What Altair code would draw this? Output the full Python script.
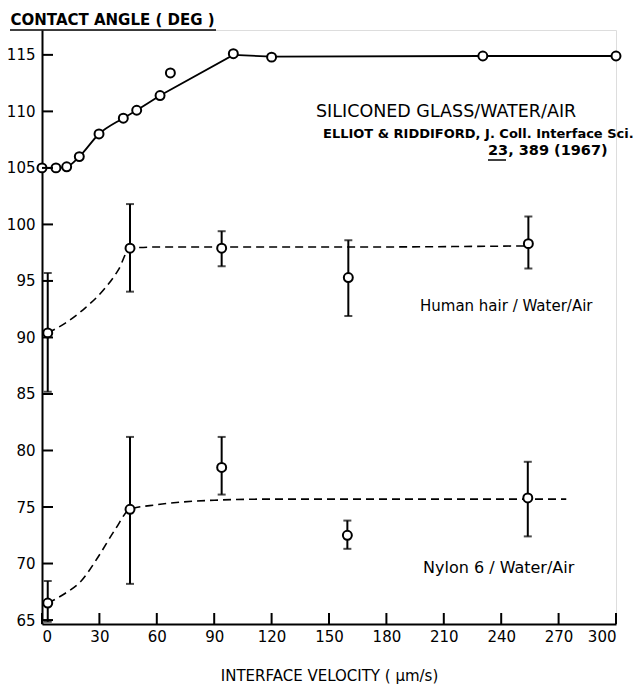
import altair as alt
import pandas as pd

FONT = "DejaVu Sans"

# Siliconed glass / water / air (Elliot & Riddiford)
glass_x = [0, 7.3, 12.9, 19.5, 29.8, 42.5, 49.5, 61.7, 67.1, 100, 120, 230.4, 300]
glass_y = [105.0, 105.0, 105.1, 106.0, 108.0, 109.4, 110.1, 111.4, 113.4, 115.1, 114.8, 114.9, 114.9]
glass_curve_x = [0, 7.3, 12.9, 19.5, 29.8, 42.5, 49.5, 61.7, 100, 120, 230, 300]
glass_curve_y = [105.0, 105.0, 105.1, 106.0, 108.0, 109.4, 110.1, 111.4, 115.0, 114.85, 114.9, 114.9]

# Human hair / water / air
hair_x = [3.0, 46.0, 93.9, 160.1, 254.2]
hair_y = [90.4, 97.9, 97.9, 95.3, 98.3]
hair_lo = [85.2, 94.05, 96.3, 91.9, 96.1]
hair_hi = [95.7, 101.8, 99.4, 98.6, 100.7]
hair_curve_x = [3.0, 12.0, 22.5, 32.9, 40.0, 46.0, 60, 94, 160, 254.2]
hair_curve_y = [90.4, 91.25, 92.6, 94.35, 96.0, 97.9, 98.0, 98.0, 98.0, 98.1]

# Nylon 6 / water / air
nylon_x = [3.0, 46.0, 93.9, 159.6, 253.9]
nylon_y = [66.5, 74.8, 78.5, 72.5, 75.8]
nylon_lo = [64.85, 68.2, 76.1, 71.3, 72.4]
nylon_hi = [68.45, 81.2, 81.2, 73.8, 79.0]
nylon_curve_x = [3.0, 12.0, 20.7, 29.4, 38.2, 46.0, 60, 90, 120, 274]
nylon_curve_y = [66.5, 67.35, 68.5, 70.6, 73.0, 74.8, 75.2, 75.6, 75.7, 75.7]

x_ticks = [0, 30, 60, 90, 120, 150, 180, 210, 240, 270, 300]
y_ticks = [65, 70, 75, 80, 85, 90, 95, 100, 105, 110, 115]

W, H = 574, 594
xs = alt.Scale(domain=[0, 300], nice=False, zero=False)
ys = alt.Scale(domain=[64.65, 117.2], nice=False, zero=False)

pts = pd.DataFrame({"x": glass_x + hair_x + nylon_x, "y": glass_y + hair_y + nylon_y})
err = pd.DataFrame({"x": hair_x + nylon_x, "lo": hair_lo + nylon_lo, "hi": hair_hi + nylon_hi})
gc = pd.DataFrame({"x": glass_curve_x, "y": glass_curve_y, "o": range(len(glass_curve_x))})
hc = pd.DataFrame({"x": hair_curve_x, "y": hair_curve_y, "o": range(len(hair_curve_x))})
nc = pd.DataFrame({"x": nylon_curve_x, "y": nylon_curve_y, "o": range(len(nylon_curve_x))})
one = pd.DataFrame({"a": [0]})

X = alt.X("x:Q", scale=xs, axis=alt.Axis(
    values=x_ticks, title="INTERFACE VELOCITY ( \u03bcm/s)", ticks=False, grid=False,
    labelFontSize=15, labelPadding=5, titleFontSize=15, titleFontWeight="normal",
    titlePadding=24, domainColor="black", domainWidth=2, labelColor="black", titleColor="black",
    labelFont=FONT, titleFont=FONT))
Y = alt.Y("y:Q", scale=ys, axis=alt.Axis(
    values=y_ticks, title="CONTACT ANGLE ( DEG )", ticks=False, grid=False,
    labelFontSize=15, labelPadding=7, titleAngle=0, titleAlign="left", titleBaseline="bottom",
    titleX=-32, titleY=-3, titleFontSize=15, titleFontWeight="bold",
    domainColor="black", domainWidth=2, labelColor="black", titleColor="black",
    labelFont=FONT, titleFont=FONT))

glass_low = alt.Chart(gc).transform_filter(alt.datum.x <= 61.7).mark_line(
    color="black", strokeWidth=1.8, interpolate="monotone").encode(x=X, y=Y, order="o:Q")
glass_high = alt.Chart(gc).transform_filter(alt.datum.x >= 61.7).mark_line(
    color="black", strokeWidth=1.8, interpolate="linear").encode(
    x=alt.X("x:Q", scale=xs), y=alt.Y("y:Q", scale=ys), order="o:Q")
hair_line = alt.Chart(hc).mark_line(color="black", strokeWidth=1.6, strokeDash=[8, 5], interpolate="monotone").encode(
    x=alt.X("x:Q", scale=xs), y=alt.Y("y:Q", scale=ys), order="o:Q")
nylon_line = alt.Chart(nc).mark_line(color="black", strokeWidth=1.6, strokeDash=[8, 5], interpolate="monotone").encode(
    x=alt.X("x:Q", scale=xs), y=alt.Y("y:Q", scale=ys), order="o:Q")

bars = alt.Chart(err).mark_rule(color="black", strokeWidth=2).encode(
    x=alt.X("x:Q", scale=xs), y=alt.Y("lo:Q", scale=ys), y2="hi:Q")
cap_lo = alt.Chart(err).mark_tick(color="black", orient="horizontal", size=8, thickness=2).encode(
    x=alt.X("x:Q", scale=xs), y=alt.Y("lo:Q", scale=ys))
cap_hi = alt.Chart(err).mark_tick(color="black", orient="horizontal", size=8, thickness=2).encode(
    x=alt.X("x:Q", scale=xs), y=alt.Y("hi:Q", scale=ys))

points = alt.Chart(pts).mark_point(shape="circle", size=80, filled=False, fill="white",
                                   fillOpacity=1, color="black", strokeWidth=2, opacity=1).encode(
    x=alt.X("x:Q", scale=xs), y=alt.Y("y:Q", scale=ys))

yt = pd.DataFrame({"v": y_ticks})
xt = pd.DataFrame({"v": x_ticks})
ytick = alt.Chart(yt).mark_rule(color="black", strokeWidth=2).encode(
    y=alt.Y("v:Q", scale=ys), x=alt.value(0), x2=alt.value(11))
xtick = alt.Chart(xt).mark_rule(color="black", strokeWidth=2).encode(
    x=alt.X("v:Q", scale=xs), y=alt.value(H), y2=alt.value(H - 11))

underline = alt.Chart(one).mark_rule(color="black", strokeWidth=1.5).encode(
    x=alt.value(-32), x2=alt.value(174), y=alt.value(0))

def label(txt, px, py, size, weight="normal", align="left"):
    return alt.Chart(one).mark_text(text=txt, fontSize=size, fontWeight=weight, font=FONT,
                                    align=align, baseline="middle", color="black").encode(
        x=alt.value(px), y=alt.value(py))

texts = [
    label("SILICONED GLASS/WATER/AIR", 274, 82, 17.5),
    label("ELLIOT & RIDDIFORD, J. Coll. Interface Sci.", 281, 104, 13, "bold"),
    label("23, 389 (1967)", 446, 121, 14.5, "bold"),
    label("Human hair / Water/Air", 378, 276, 15),
    label("Nylon  6 / Water/Air", 381, 538, 16),
]
ul23 = alt.Chart(one).mark_rule(color="black", strokeWidth=1.5).encode(
    x=alt.value(446), x2=alt.value(464), y=alt.value(130))

chart = alt.layer(glass_low, glass_high, hair_line, nylon_line, bars, cap_lo, cap_hi, points,
                  ytick, xtick, underline, ul23, *texts).properties(
    width=W, height=H,
    autosize=alt.AutoSizeParams(type="none"),
    padding={"left": 34, "top": 22, "right": 17, "bottom": 64},
).configure_view(stroke=None).configure(background="white")

chart.save("out.html", embed_options={"renderer": "svg", "actions": False})
